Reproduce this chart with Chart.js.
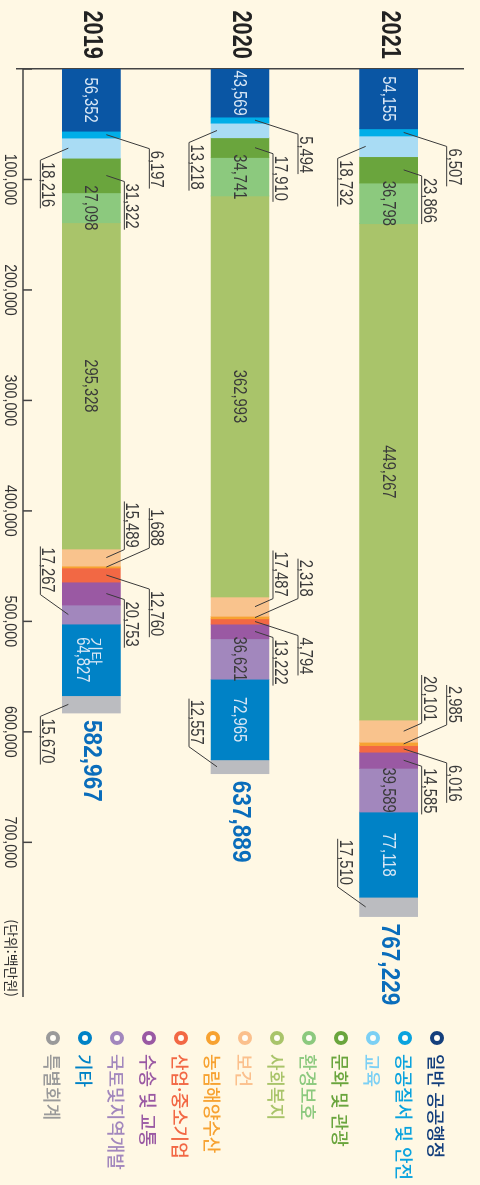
<!DOCTYPE html>
<html lang="ko">
<head>
<meta charset="utf-8">
<title>분야별 재원배분</title>
<script src="https://cdn.jsdelivr.net/npm/chart.js@4/dist/chart.umd.min.js"></script>
<style>
  html, body { margin: 0; padding: 0; background: #fff8e4; }
  #page { width: 480px; height: 1185px; overflow: hidden; position: relative; }
  /* 가로 차트를 그린 뒤 90도 돌린다 */
  #rot { position: absolute; left: 0; top: 0; width: 1185px; height: 480px;
         transform-origin: 0 0; transform: translateX(480px) rotate(90deg); }
  #my_chart { position: absolute; left: 0; top: 0; }
  #legend { position: absolute; left: 1031px; top: 27px; margin: 0; padding: 0; list-style: none;
            font-family: 'Noto Sans CJK KR', sans-serif; font-size: 18px; font-weight: 500; }
  #legend li { height: 32px; display: flex; align-items: center; white-space: nowrap; }
  #legend .dot { width: 6px; height: 6px; border: 4px solid; border-radius: 50%;
                 background: #fffdf6; margin-right: 9px; flex: none; }
</style>
</head>
<body>
<div id="page"><div id="rot">
  <canvas id="my_chart" width="1185" height="480"></canvas>
  <ul id="legend"></ul>
</div></div>
<script>
(function () {
  'use strict';

  // 연도 (위에서부터)
  const years = ['2021', '2020', '2019'];

  // 분야
  const sectors = ['일반 공공행정', '공공질서 및 안전', '교육', '문화 및 관광', '환경보호', '사회복지',
    '보건', '농림해양수산', '산업·중소기업', '수송 및 교통', '국토및지역개발', '기타', '특별회계'];

  // 연도별 값 (단위: 백만원)
  const values2021 = [54155, 6507, 18732, 23866, 36798, 449267, 20101, 2985, 6016, 14585, 39589, 77118, 17510];
  const values2020 = [43569, 5494, 13218, 17910, 34741, 362993, 17487, 2318, 4794, 13222, 36621, 72965, 12557];
  const values2019 = [56352, 6197, 18216, 31322, 27098, 295328, 15489, 1688, 12760, 20753, 17267, 64827, 15670];

  // 합계
  const totals = [767229, 637889, 582967];

  // 축 눈금
  const tickValues = [0, 100000, 200000, 300000, 400000, 500000, 600000, 700000];

  const barColors = ['#0a56a4', '#00aee8', '#a9dcf4', '#6aa53d', '#8cc97e', '#a9c46a', '#f9c38d',
    '#f7a231', '#f26844', '#9a59a3', '#a287bd', '#0082c6', '#bbbcc0'];
  const legendColors = ['#143f7c', '#0aa3de', '#7cd0f4', '#6aa53d', '#8cc97e', '#a9c46a', '#fbc08d',
    '#f7a231', '#f26844', '#9a59a3', '#a287bd', '#0082c6', '#9a9a9a'];
  const lightText = [0, 11]; // 흰 글씨 쓰는 분야

  // 라벨 위치: in = 막대 안, far/near = 위쪽, bot = 아래쪽, +/- = 밑줄 방향
  const place = [
    ['in', 'far+', 'bot+', 'near+', 'in', 'in', 'near-', 'far-', 'far+', 'near+', 'in', 'in', 'bot-'],
    ['in', 'far+', 'bot+', 'near+', 'in', 'in', 'near-', 'far-', 'far+', 'near+', 'in', 'in', 'bot-'],
    ['in', 'far+', 'bot+', 'near+', 'in', 'in', 'near-', 'far-', 'far+', 'near+', 'bot-', 'in2', 'bot+'],
  ];
  const lineOffset = { far: -58, near: -33, bot: 51 };
  const elbowOffset = { 'far+': 14, 'far-': -19, 'near+': 6, 'near-': -8, 'bot+': 12, 'bot-': -20 };

  const SANS = '"Liberation Sans", Arial, sans-serif';
  const KR = '"Noto Sans CJK KR", sans-serif';
  const fmt = v => v.toLocaleString('en-US');

  // 좁은 글꼴 흉내: 가로로 눌러서 쓴다
  function text(ctx, str, x, y, font, sx, align) {
    ctx.save();
    ctx.font = font;
    ctx.textAlign = align;
    ctx.translate(x, y);
    ctx.scale(sx, 1);
    ctx.fillText(str, 0, 0);
    ctx.restore();
  }
  function width(ctx, str, font, sx) {
    ctx.font = font;
    return ctx.measureText(str).width * sx;
  }

  const labelPlugin = {
    id: 'labels',
    afterDatasetsDraw(chart) {
      const ctx = chart.ctx;
      const area = chart.chartArea;
      const xs = chart.scales.x;
      const ys = chart.scales.y;
      ctx.save();
      ctx.textBaseline = 'alphabetic';

      // x축선과 안쪽 눈금
      const axisV = area.bottom - 6;
      ctx.strokeStyle = '#444';
      ctx.lineWidth = 1.5;
      ctx.beginPath();
      ctx.moveTo(area.left, axisV);
      ctx.lineTo(area.right, axisV);
      tickValues.forEach(t => {
        const px = xs.getPixelForValue(t);
        ctx.moveTo(px, axisV);
        ctx.lineTo(px, axisV - 9);
      });
      ctx.stroke();

      // 눈금 글자
      ctx.fillStyle = '#333';
      tickValues.forEach(t => {
        if (!t) return;
        text(ctx, fmt(t), xs.getPixelForValue(t), area.bottom + 12, '17px ' + SANS, 0.84, 'center');
      });

      // 단위
      ctx.font = '14px ' + KR;
      ctx.textAlign = 'right';
      ctx.textBaseline = 'middle';
      ctx.fillText('(단위:백만원)', area.right, area.bottom + 6);
      ctx.textBaseline = 'alphabetic';

      // 연도
      ctx.fillStyle = '#222';
      years.forEach((yr, yi) => {
        text(ctx, yr, area.left - 10, ys.getPixelForValue(yi) + 7, 'bold 28px ' + SANS, 0.78, 'right');
      });

      const F = '18px ' + SANS;
      const SX = 0.82;
      ctx.lineWidth = 1;
      ctx.strokeStyle = '#3a3a3a';
      years.forEach((yr, yi) => {
        sectors.forEach((name, si) => {
          const bar = chart.getDatasetMeta(si).data[yi];
          const txt = fmt(chart.data.datasets[si].data[yi]);
          const mid = (bar.x + bar.base) / 2;
          const cv = bar.y;
          const code = place[yi][si];
          if (code === 'in' || code === 'in2') {
            ctx.fillStyle = lightText.includes(si) ? '#d9e7f5' : '#3a3a3a';
            if (code === 'in2') {
              const w = width(ctx, txt, F, SX);
              ctx.font = '15px ' + KR;
              ctx.textAlign = 'left';
              ctx.fillText(name, mid - w / 2, cv + 1);
              text(ctx, txt, mid, cv + 14, F, SX, 'center');
            } else {
              text(ctx, txt, mid, cv + 6, F, SX, 'center');
            }
            return;
          }
          const key = code.slice(0, -1);
          const fwd = code.endsWith('+');
          const lineV = cv + lineOffset[key];
          const anchorV = key === 'bot' ? cv + 23 : cv - 15;
          const elbowU = mid + elbowOffset[code];
          const w = width(ctx, txt, F, SX);
          const endU = fwd ? elbowU + w + 3 : elbowU - w - 3;
          ctx.beginPath();
          ctx.moveTo(mid, anchorV);
          ctx.lineTo(elbowU, lineV);
          ctx.lineTo(endU, lineV);
          ctx.stroke();
          ctx.fillStyle = '#3a3a3a';
          text(ctx, txt, fwd ? elbowU + 2 : elbowU - 2, lineV - 2, F, SX, fwd ? 'left' : 'right');
        });

        // 합계
        const last = chart.getDatasetMeta(sectors.length - 1).data[yi];
        ctx.fillStyle = '#0a6dbb';
        text(ctx, fmt(totals[yi]), last.x + 7, last.y + 7, 'bold 26px ' + SANS, 0.87, 'left');
      });
      ctx.restore();
    }
  };

  const datasets = sectors.map((name, i) => ({
    label: name,
    data: [values2021[i], values2020[i], values2019[i]],
    backgroundColor: barColors[i],
    borderWidth: 0,
    barThickness: 58,
  }));

  const ctx = document.getElementById('my_chart').getContext('2d');
  new Chart(ctx, {
    type: 'bar',
    data: { labels: years, datasets: datasets },
    options: {
      indexAxis: 'y',
      responsive: false,
      animation: false,
      devicePixelRatio: 1,
      layout: { padding: { top: 17, right: 188, left: 69, bottom: 17 } },
      plugins: { legend: { display: false }, tooltip: { enabled: false } },
      scales: {
        x: {
          stacked: true,
          min: 0,
          max: 840000,
          grid: { display: false, drawTicks: false },
          border: { display: false },
          ticks: { display: false },
        },
        y: {
          stacked: true,
          grid: { display: false, drawTicks: false },
          border: { display: true, color: '#444', width: 1.5 },
          ticks: { display: false },
        },
      },
    },
    plugins: [labelPlugin],
  });

  // 범례
  const legend = document.getElementById('legend');
  sectors.forEach((name, i) => {
    const li = document.createElement('li');
    li.style.color = legendColors[i];
    const dot = document.createElement('span');
    dot.className = 'dot';
    dot.style.borderColor = legendColors[i];
    li.appendChild(dot);
    li.appendChild(document.createTextNode(name));
    legend.appendChild(li);
  });
})();
</script>
</body>
</html>
